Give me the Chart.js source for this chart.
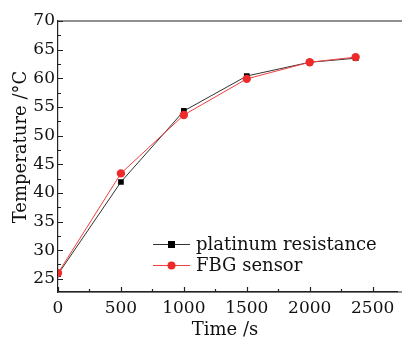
<!DOCTYPE html>
<html>
<head>
<meta charset="utf-8">
<script src="https://cdn.jsdelivr.net/npm/chart.js@4"></script>
<style>
  html, body { margin: 0; padding: 0; background: #fff; }
  #wrap { width: 402px; height: 337px; position: relative; }
</style>
</head>
<body>
<div id="wrap"><canvas id="chart"></canvas></div>
<script>
// values
const timeS = [0, 500, 1000, 1500, 2000, 2365];
const platinum = [25.8, 41.9, 54.3, 60.4, 62.8, 63.5];
const fbg = [26.0, 43.4, 53.6, 59.9, 62.8, 63.7];
const xTicks = [0, 500, 1000, 1500, 2000, 2500];
const yTicks = [25, 30, 35, 40, 45, 50, 55, 60, 65, 70];
const seriesNames = ["platinum resistance", "FBG sensor"];

const FONT = "'DejaVu Serif', 'Liberation Serif', serif";
const AXIS = "#222";

const toPoints = (ys) => timeS.map((t, i) => ({x: t, y: ys[i]}));

// inward ticks, top frame line, axis titles and the legend box
const decorations = {
  id: "decorations",
  afterDraw(chart) {
    const {ctx, chartArea: a, scales: {x, y}} = chart;
    ctx.save();
    ctx.strokeStyle = AXIS;
    ctx.lineWidth = 1.2;
    ctx.beginPath();
    ctx.moveTo(a.left, a.top);
    ctx.lineTo(chart.width, a.top);
    ctx.moveTo(a.left, a.bottom);
    ctx.lineTo(chart.width, a.bottom);
    for (let v = 0; v <= x.max; v += 250) {
      const px = Math.round(x.getPixelForValue(v)) + 0.5;
      const len = v % 500 === 0 ? 5 : 3;
      ctx.moveTo(px, a.bottom);
      ctx.lineTo(px, a.bottom - len);
    }
    for (let v = 25; v <= y.max; v += 2.5) {
      const py = Math.round(y.getPixelForValue(v)) + 0.5;
      const len = v % 5 === 0 ? 5 : 3;
      ctx.moveTo(a.left, py);
      ctx.lineTo(a.left + len, py);
    }
    ctx.stroke();

    // axis titles
    ctx.fillStyle = "#111";
    ctx.font = "18px " + FONT;
    ctx.textAlign = "center";
    ctx.textBaseline = "alphabetic";
    ctx.fillText("Time /s", 225, 335);
    ctx.translate(26, 147);
    ctx.rotate(-Math.PI / 2);
    ctx.fillText("Temperature /\u00b0C", 0, 0);
    ctx.restore();

    // legend
    ctx.save();
    ctx.font = "18px " + FONT;
    ctx.textAlign = "left";
    ctx.textBaseline = "middle";
    chart.data.datasets.forEach((ds, i) => {
      const ly = 244 + i * 21;
      ctx.strokeStyle = ds.borderColor;
      ctx.lineWidth = 1;
      ctx.beginPath();
      ctx.moveTo(153, ly + 0.5);
      ctx.lineTo(190, ly + 0.5);
      ctx.stroke();
      ctx.fillStyle = ds.pointBackgroundColor;
      if (ds.pointStyle === "rect") {
        ctx.fillRect(168, ly - 3, 7, 7);
      } else {
        ctx.beginPath();
        ctx.arc(171.5, ly + 0.5, 4, 0, Math.PI * 2);
        ctx.fill();
      }
      ctx.fillStyle = "#111";
      ctx.fillText(ds.label, 196, ly + 1);
    });
    ctx.restore();
  }
};

new Chart(document.getElementById("chart"), {
  type: "line",
  data: {
    datasets: [
      {
        label: seriesNames[0],
        data: toPoints(platinum),
        borderColor: "#333",
        borderWidth: 1,
        pointStyle: "rect",
        pointRadius: 4,
        pointBackgroundColor: "#000",
        pointBorderColor: "#000",
        pointBorderWidth: 0,
        order: 2
      },
      {
        label: seriesNames[1],
        data: toPoints(fbg),
        borderColor: "#f04040",
        borderWidth: 1,
        pointStyle: "circle",
        pointRadius: 4.2,
        pointBackgroundColor: "#ee2a2a",
        pointBorderColor: "#ee2a2a",
        pointBorderWidth: 0,
        order: 1
      }
    ]
  },
  options: {
    responsive: true,
    maintainAspectRatio: false,
    animation: false,
    layout: {padding: {top: 21, right: -5, left: 0, bottom: 0}},
    plugins: {legend: {display: false}, tooltip: {enabled: false}},
    scales: {
      x: {
        type: "linear",
        min: 0,
        max: 2700,
        afterBuildTicks: (s) => { s.ticks = xTicks.map(v => ({value: v})); },
        afterFit: (s) => { s.height = 45; },
        grid: {display: false, drawTicks: true, tickLength: 6},
        border: {display: true, color: AXIS, width: 1.2},
        ticks: {
          color: "#111", font: {family: FONT, size: 17}, padding: 0, maxRotation: 0,
          callback: (v) => String(v)
        }
      },
      y: {
        min: 22.7,
        max: 70,
        afterBuildTicks: (s) => { s.ticks = yTicks.map(v => ({value: v})); },
        afterFit: (s) => { s.width = 58; },
        grid: {display: false, drawTicks: false},
        border: {display: true, color: AXIS, width: 1.2},
        ticks: {color: "#111", font: {family: FONT, size: 17}, padding: 3}
      }
    }
  },
  plugins: [decorations]
});
</script>
</body>
</html>
